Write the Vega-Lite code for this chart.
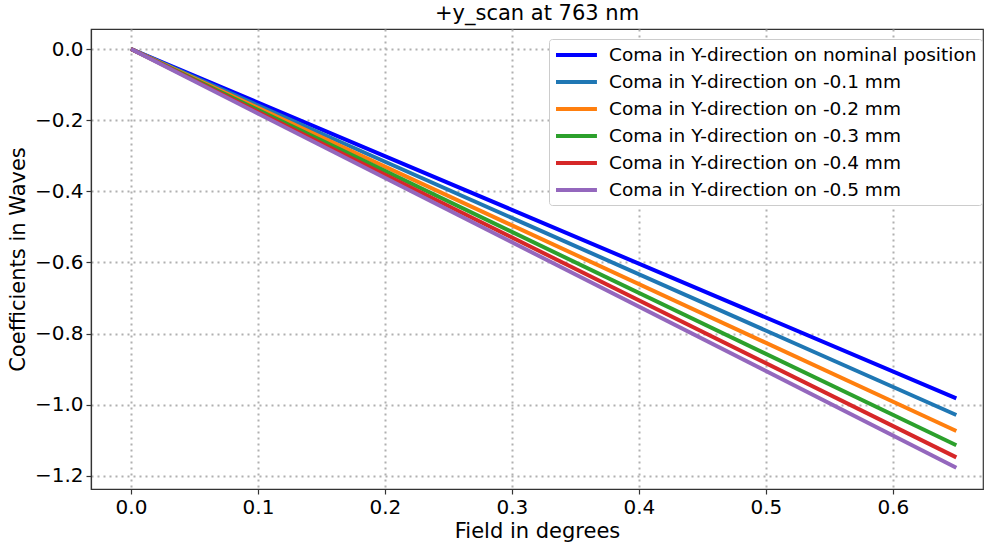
{
  "$schema": "https://vega.github.io/schema/vega-lite/v6.json",
  "width": 892,
  "height": 460,
  "autosize": {"type": "none"},
  "padding": {"left": 91, "top": 29, "right": 1, "bottom": 53},
  "background": "white",
  "config": {
    "font": "DejaVu Sans",
    "view": {"stroke": "#333", "strokeWidth": 1.2},
    "axis": {
      "labelFont": "DejaVu Sans",
      "titleFont": "DejaVu Sans",
      "labelFontSize": 20,
      "titleFontSize": 21,
      "titleFontWeight": "normal",
      "labelColor": "#000",
      "titleColor": "#000",
      "domainColor": "#333",
      "domainWidth": 1.2,
      "tickColor": "#333",
      "tickSize": 5,
      "tickWidth": 1.2,
      "gridColor": "#b0b0b0",
      "gridWidth": 2,
      "gridDash": [2, 4],
      "gridOpacity": 1
    }
  },
  "title": {
    "text": "+y_scan at 763 nm",
    "fontSize": 21,
    "fontWeight": "normal",
    "font": "DejaVu Sans",
    "color": "#000",
    "offset": 5
  },
  "data": {
    "values": [
      {"series": "Coma in Y-direction on nominal position", "field": 0.0, "coef": 0.0},
      {"series": "Coma in Y-direction on nominal position", "field": 0.3, "coef": -0.452},
      {"series": "Coma in Y-direction on nominal position", "field": 0.65, "coef": -0.982},
      {"series": "Coma in Y-direction on -0.1 mm", "field": 0.0, "coef": 0.0},
      {"series": "Coma in Y-direction on -0.1 mm", "field": 0.65, "coef": -1.029},
      {"series": "Coma in Y-direction on -0.2 mm", "field": 0.0, "coef": 0.0},
      {"series": "Coma in Y-direction on -0.2 mm", "field": 0.65, "coef": -1.074},
      {"series": "Coma in Y-direction on -0.3 mm", "field": 0.0, "coef": 0.0},
      {"series": "Coma in Y-direction on -0.3 mm", "field": 0.65, "coef": -1.114},
      {"series": "Coma in Y-direction on -0.4 mm", "field": 0.0, "coef": 0.0},
      {"series": "Coma in Y-direction on -0.4 mm", "field": 0.65, "coef": -1.148},
      {"series": "Coma in Y-direction on -0.5 mm", "field": 0.0, "coef": 0.0},
      {"series": "Coma in Y-direction on -0.5 mm", "field": 0.65, "coef": -1.177}
    ]
  },
  "mark": {"type": "line", "strokeWidth": 4, "clip": true},
  "encoding": {
    "x": {
      "field": "field",
      "type": "quantitative",
      "scale": {"domain": [-0.0315, 0.671], "nice": false, "zero": false},
      "axis": {"values": [0, 0.1, 0.2, 0.3, 0.4, 0.5, 0.6], "format": ".1f", "title": "Field in degrees", "titlePadding": 3, "labelPadding": 3}
    },
    "y": {
      "field": "coef",
      "type": "quantitative",
      "scale": {"domain": [-1.237, 0.0563], "nice": false, "zero": false},
      "axis": {"values": [-1.2, -1.0, -0.8, -0.6, -0.4, -0.2, 0.0], "format": ".1f", "title": "Coefficients in Waves", "titlePadding": 6, "labelPadding": 3}
    },
    "color": {
      "field": "series",
      "type": "nominal",
      "scale": {
        "domain": [
          "Coma in Y-direction on nominal position",
          "Coma in Y-direction on -0.1 mm",
          "Coma in Y-direction on -0.2 mm",
          "Coma in Y-direction on -0.3 mm",
          "Coma in Y-direction on -0.4 mm",
          "Coma in Y-direction on -0.5 mm"
        ],
        "range": ["#0000ff", "#1f77b4", "#ff7f0e", "#2ca02c", "#d62728", "#9467bd"]
      },
      "legend": {
        "title": null,
        "orient": "none",
        "legendX": 458,
        "legendY": 10,
        "symbolType": "M-1,0H3.55",
        "symbolSize": 324,
        "symbolStrokeWidth": 4,
        "labelFontSize": 18.5,
        "labelFont": "DejaVu Sans",
        "labelColor": "#000",
        "labelLimit": 500,
        "labelOffset": 33,
        "rowPadding": 6,
        "padding": 5,
        "fillColor": "white",
        "strokeColor": "#cccccc",
        "cornerRadius": 3
      }
    }
  }
}
